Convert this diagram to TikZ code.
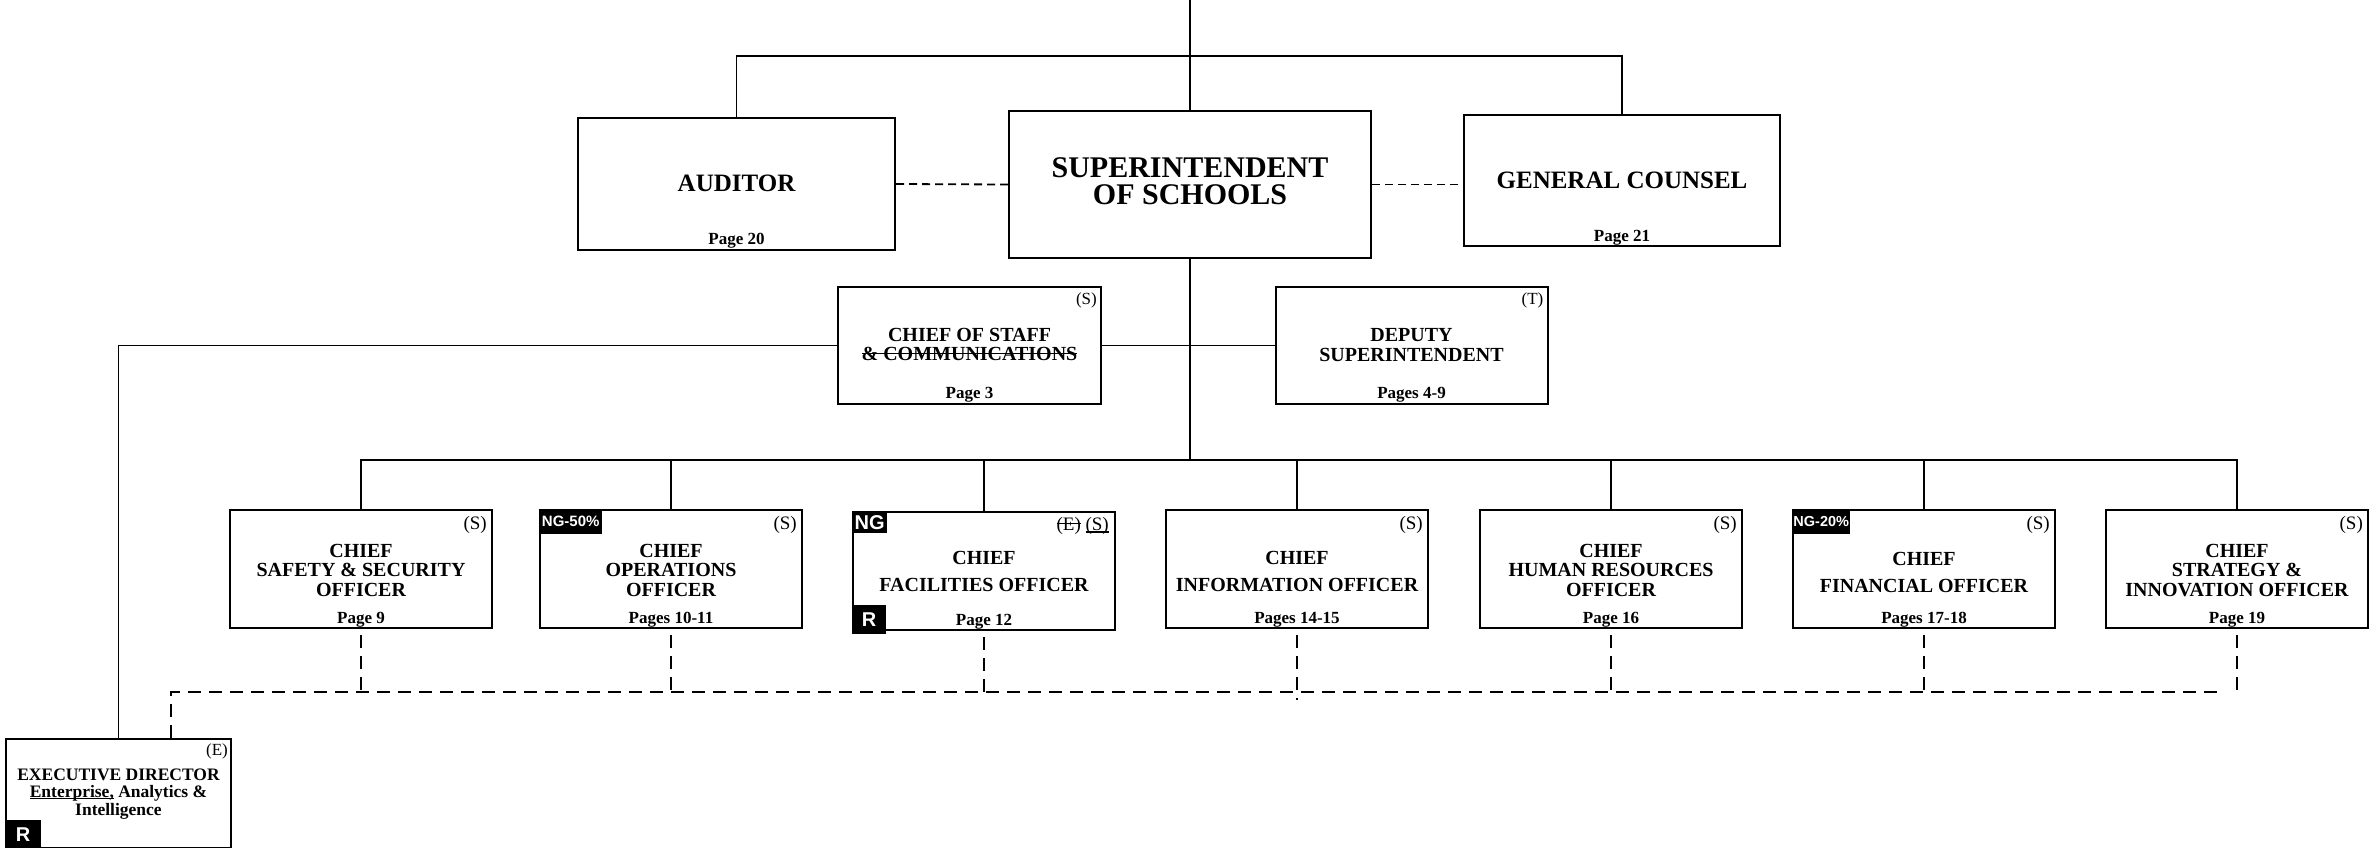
\documentclass[tikz,border=0pt]{standalone}
\usepackage{fontspec}
\setmainfont{Liberation Serif}
\newfontfamily\badgefont{Liberation Sans}
\usetikzlibrary{calc}

% struck-through and underlined text
\newsavebox\markbox
\newcommand\strikeit[1]{\sbox\markbox{#1}\rlap{\rule[0.3em]{\wd\markbox}{1.4pt}}\usebox\markbox}
\newcommand\underit[1]{\sbox\markbox{#1}\rlap{\rule[-0.14em]{\wd\markbox}{1.2pt}}\usebox\markbox}

\tikzset{
  box/.style={draw=black, line width=2pt, rectangle, inner sep=0pt, fill=white},
  chief/.style={box, minimum width=262pt, minimum height=118pt},
  link/.style={line width=1.9pt},
  dotlink/.style={line width=1.8pt, dash pattern=on 8pt off 5pt},
  dashlink/.style={line width=1.9pt, dash pattern=on 13pt off 8pt},
  bigtitle/.style={anchor=base, inner sep=0pt, font=\bfseries\fontsize{30pt}{30pt}\selectfont},
  midtitle/.style={anchor=base, inner sep=0pt, font=\bfseries\fontsize{25pt}{25pt}\selectfont},
  title/.style={anchor=base, inner sep=0pt, font=\bfseries\fontsize{20pt}{20pt}\selectfont},
  smalltitle/.style={anchor=base, inner sep=0pt, font=\bfseries\fontsize{17.5pt}{17.5pt}\selectfont},
  pagelbl/.style={anchor=base, inner sep=0pt, font=\bfseries\fontsize{17pt}{17pt}\selectfont},
  tag/.style={anchor=base east, inner sep=0pt, font=\fontsize{19pt}{19pt}\selectfont},
  badge/.style={fill=black, text=white, inner sep=0pt, anchor=north west,
    font=\badgefont\bfseries\fontsize{#1pt}{#1pt}\selectfont},
}

\begin{document}
\begin{tikzpicture}[x=1pt, y=-1pt]
\useasboundingbox (0,0) rectangle (2376,847);

% ---- boxes ----
\node[box, minimum width=317pt, minimum height=132pt] (aud) at (736.5,184) {};
\node[box, minimum width=362pt, minimum height=147pt] (sup) at (1190,184.5) {};
\node[box, minimum width=316pt, minimum height=131pt] (gc)  at (1622,180.5) {};
\node[box, minimum width=263pt, minimum height=117pt] (cos) at (969.5,345.5) {};
\node[box, minimum width=272pt, minimum height=117pt] (dep) at (1411.5,345.5) {};
\node[chief] (c1) at (361,569) {};
\node[chief] (c2) at (671,569) {};
\node[chief] (c3) at (984,571) {};
\node[chief] (c4) at (1297,569) {};
\node[chief] (c5) at (1611,569) {};
\node[chief] (c6) at (1924,569) {};
\node[chief] (c7) at (2237,569) {};
\node[box, minimum width=225pt, minimum height=109pt] (exec) at (118.5,793.5) {};

% ---- routing points ----
\coordinate (top) at (1190,0);
\coordinate (bar) at (0,56);
\coordinate (bus) at (0,460);
\coordinate (dl) at (171,692);
\coordinate (dr) at (2218,692);

% ---- solid reporting lines ----
\draw[link] (top) -- (sup.north);
\draw[link] (aud.north) -- (aud.north |- bar) -- (gc.north |- bar) -- (gc.north);
\draw[link] (sup.south) -- (sup.south |- bus);
\draw[link] (c1.north) -- (c1.north |- bus) -- (c7.north |- bus) -- (c7.north);
\foreach \c in {c2,c3,c4,c5,c6} {\draw[link] (\c.north) -- (\c.north |- bus);}
\draw[link] (cos.east) -- (dep.west);
\draw[link] (cos.west) -| (exec.north);

% ---- dotted advisory lines ----
\draw[dotlink] (aud.east) -- (sup.west);
\draw[dotlink] (sup.east) -- (sup.east -| gc.west);

% ---- dashed lines to the executive director ----
\draw[dashlink] (exec.north -| dl) -- (dl) -- (dr);
\foreach \c in {c1,c2,c3,c5,c6,c7} {\draw[dashlink, dash phase=15pt] (\c.south) -- (\c.south |- dl);}
\draw[dashlink, dash phase=15pt] (c4.south) -- ($(c4.south |- dl)+(0,8)$);

% ---- texts: top row ----
\node[midtitle] (t-aud) at (736.5,191) {AUDITOR};
\node[pagelbl] (p-aud) at (736.5,244) {Page 20};
\node[bigtitle] (t-sup1) at (1190,177) {SUPERINTENDENT};
\node[bigtitle] (t-sup2) at (1190,204) {OF SCHOOLS};
\node[midtitle] (t-gc) at (1622,188) {GENERAL COUNSEL};
\node[pagelbl] (p-gc) at (1622,241) {Page 21};

% ---- texts: second row ----
\node[title] (t-cos1) at (969.5,341) {CHIEF OF STAFF};
\node[title] (t-cos2) at (969.5,360) {\strikeit{\& COMMUNICATIONS}};
\node[pagelbl] (p-cos) at (969.5,398) {Page 3};
\node[tag, font=\fontsize{17pt}{17pt}\selectfont] (g-cos) at ($(cos.north east)+(-5,18)$) {(S)};
\node[title] (t-dep1) at (1411.5,341) {DEPUTY};
\node[title] (t-dep2) at (1411.5,361) {SUPERINTENDENT};
\node[pagelbl] (p-dep) at (1411.5,398) {Pages 4-9};
\node[tag, font=\fontsize{17pt}{17pt}\selectfont] (g-dep) at ($(dep.north east)+(-5,18)$) {(T)};

% ---- texts: chiefs ----
\node[title] (t-c1a) at (361,557) {CHIEF};
\node[title] (t-c1b) at (361,576.5) {SAFETY \& SECURITY};
\node[title] (t-c1c) at (361,596) {OFFICER};
\node[pagelbl] (p-c1) at (361,623) {Page 9};

\node[title] (t-c2a) at (671,557) {CHIEF};
\node[title] (t-c2b) at (671,576.5) {OPERATIONS};
\node[title] (t-c2c) at (671,596) {OFFICER};
\node[pagelbl] (p-c2) at (671,623) {Pages 10-11};

\node[title] (t-c3a) at (984,564) {CHIEF};
\node[title] (t-c3b) at (984,591) {FACILITIES OFFICER};
\node[pagelbl] (p-c3) at (984,625) {Page 12};

\node[title] (t-c4a) at (1297,564) {CHIEF};
\node[title] (t-c4b) at (1297,591) {INFORMATION OFFICER};
\node[pagelbl] (p-c4) at (1297,623) {Pages 14-15};

\node[title] (t-c5a) at (1611,557) {CHIEF};
\node[title] (t-c5b) at (1611,576.5) {HUMAN RESOURCES};
\node[title] (t-c5c) at (1611,596) {OFFICER};
\node[pagelbl] (p-c5) at (1611,623) {Page 16};

\node[title] (t-c6a) at (1924,565) {CHIEF};
\node[title] (t-c6b) at (1924,592) {FINANCIAL OFFICER};
\node[pagelbl] (p-c6) at (1924,623) {Pages 17-18};

\node[title] (t-c7a) at (2237,557) {CHIEF};
\node[title] (t-c7b) at (2237,576.5) {STRATEGY \&};
\node[title] (t-c7c) at (2237,596) {INNOVATION OFFICER};
\node[pagelbl] (p-c7) at (2237,623) {Page 19};

\node[tag] (g-c1) at ($(c1.north east)+(-6,20)$) {(S)};
\node[tag] (g-c2) at ($(c2.north east)+(-6,20)$) {(S)};
\node[tag] (g-c3) at ($(c3.north east)+(-7,19)$) {\strikeit{(E)} \underit{(S)}};
\node[tag] (g-c4) at ($(c4.north east)+(-6,20)$) {(S)};
\node[tag] (g-c5) at ($(c5.north east)+(-6,20)$) {(S)};
\node[tag] (g-c6) at ($(c6.north east)+(-6,20)$) {(S)};
\node[tag] (g-c7) at ($(c7.north east)+(-6,20)$) {(S)};

% ---- texts: executive director ----
\node[smalltitle] (t-ex1) at (118.5,780) {EXECUTIVE DIRECTOR};
\node[smalltitle] (t-ex2) at (118.5,797) {\underit{Enterprise,} Analytics \&};
\node[smalltitle] (t-ex3) at (118.5,815) {Intelligence};
\node[tag, font=\fontsize{17pt}{17pt}\selectfont] (g-ex) at ($(exec.north east)+(-4,17)$) {(E)};

% ---- badges ----
\node[badge=15, minimum width=63pt, minimum height=25pt] (b-c2) at (c2.north west) {NG-50\%};
\node[badge=20, minimum width=35pt, minimum height=22pt] (b-c3) at (c3.north west) {NG};
\node[badge=20, anchor=south west, minimum width=34pt, minimum height=29pt] (r-c3) at ($(c3.south west)+(0,3)$) {R};
\node[badge=14.5, minimum width=58pt, minimum height=25pt] (b-c6) at (c6.north west) {NG-20\%};
\node[badge=20, anchor=south west, minimum width=36pt, minimum height=29pt] (r-ex) at (exec.south west) {R};
\end{tikzpicture}
\end{document}
